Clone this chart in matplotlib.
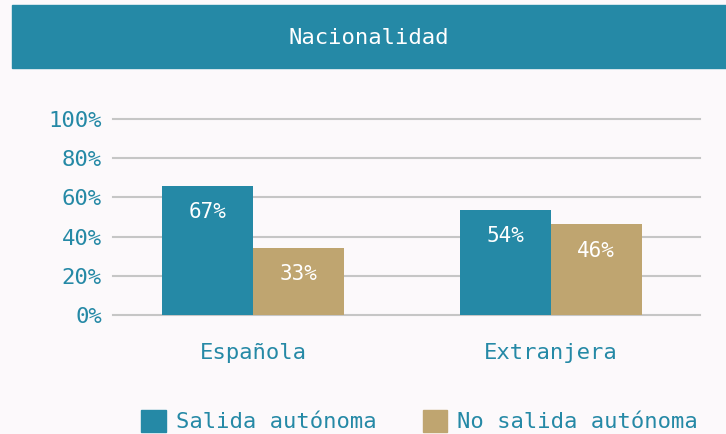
import matplotlib.pyplot as plt
from matplotlib.patches import Rectangle, Patch

categories = ["Española", "Extranjera"]
salida = [65.8, 53.6]
no_salida = [34.2, 46.4]
salida_labels = ["67%", "54%"]
no_salida_labels = ["33%", "46%"]
yticks = [0, 20, 40, 60, 80, 100]

blue = "#2589a6"
tan = "#bfa570"
bg = "#fcf9fb"

plt.rcParams['font.family'] = ['DejaVu Sans Mono']

fig = plt.figure(figsize=(7.26, 4.34), dpi=100, facecolor=bg)

# banner
fig.patches.append(Rectangle((12 / 726, 1 - 68 / 434), 1 - 12 / 726, 63 / 434,
                             transform=fig.transFigure, color=blue, zorder=0))
fig.text(0.508, 1 - 38 / 434, "Nacionalidad", color="white", fontsize=16,
         ha="center", va="center")

ax = fig.add_axes([113 / 726, 1 - 315 / 434, 587 / 726, 196 / 434])
ax.set_facecolor(bg)

x = list(range(len(categories)))
w = 0.304
b1 = ax.bar([i - w / 2 for i in x], salida, w, color=blue, zorder=3)
b2 = ax.bar([i + w / 2 for i in x], no_salida, w, color=tan, zorder=3)

for bars, labels in ((b1, salida_labels), (b2, no_salida_labels)):
    for bar, lab in zip(bars, labels):
        ax.text(bar.get_x() + bar.get_width() / 2, bar.get_height() - 13.5, lab,
                color="white", fontsize=15, ha="center", va="center", zorder=4)

ax.set_xlim(-0.47, 1.5)
ax.set_ylim(0, 100)
ax.set_yticks(yticks)
ax.set_yticklabels([f"{v}%" for v in yticks])
for v in yticks:
    ax.axhline(v, color="#c6c6c6", lw=1.5, zorder=1, clip_on=False)
ax.set_xticks(x)
ax.set_xticklabels(categories)
ax.tick_params(axis="both", length=0, colors=blue, labelsize=16)
ax.tick_params(axis="x", pad=20)
ax.tick_params(axis="y", pad=8)
for s in ax.spines.values():
    s.set_visible(False)

handles = [Patch(color=blue, label="Salida autónoma"),
           Patch(color=tan, label="No salida autónoma")]
leg = fig.legend(handles=handles, loc="center", bbox_to_anchor=(0.578, 0.03),
                 ncol=2, frameon=False, fontsize=16, handlelength=1.1,
                 handleheight=1.2, handletextpad=0.45, columnspacing=2.1)
for t in leg.get_texts():
    t.set_color(blue)

fig.savefig("out.png", dpi=100, facecolor=bg)
